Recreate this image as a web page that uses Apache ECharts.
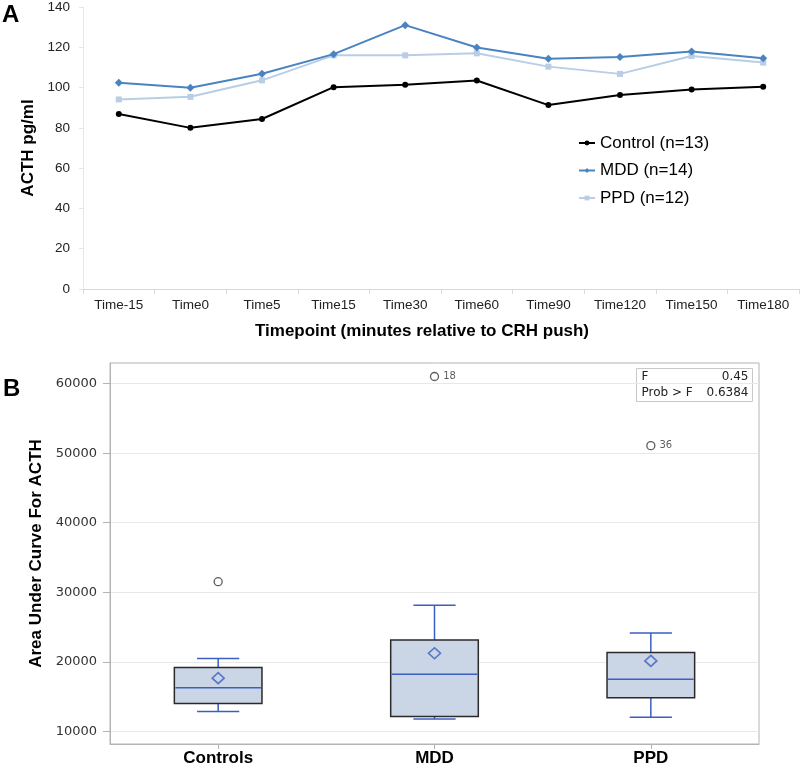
<!DOCTYPE html>
<html><head><meta charset="utf-8">
<script src="https://cdn.jsdelivr.net/npm/echarts@6/dist/echarts.min.js"></script>
<style>html,body{margin:0;padding:0;background:#fff}#chart{width:800px;height:767px}</style>
</head><body><div id="chart"></div>
<script>
// ---- Panel A data ----
var timepoints = ['Time-15','Time0','Time5','Time15','Time30','Time60','Time90','Time120','Time150','Time180'];
var controlACTH = [86.9, 80.0, 84.4, 100.2, 101.4, 103.5, 91.3, 96.3, 99.1, 100.4];
var mddACTH = [102.4, 99.9, 106.9, 116.6, 131.0, 119.9, 114.3, 115.2, 117.9, 114.5];
var ppdACTH = [94.1, 95.4, 103.6, 116.0, 116.0, 117.0, 110.4, 106.8, 115.7, 112.4];
var seriesNames = ['Control (n=13)', 'MDD (n=14)', 'PPD (n=12)'];

// ---- Panel B data ----
var groups = ['Controls', 'MDD', 'PPD'];
var boxLow = [12870, 11760, 12010];
var boxQ1 = [14020, 12150, 14820];
var boxMedian = [16260, 18220, 17500];
var boxQ3 = [19180, 23140, 21330];
var boxHigh = [20470, 28120, 24150];
var groupMean = [17650, 21230, 20130];
var outlierValues = [31520, 61020, 51080];
var outlierIds = ['', '18', '36'];
var aucTicks = [10000, 20000, 30000, 40000, 50000, 60000];
var anovaLabels = ['F', 'Prob > F'];
var anovaValues = ['0.45', '0.6384'];

var FONT = "'Liberation Sans', Arial, sans-serif";
var SAS = "'DejaVu Sans', sans-serif";
var BLUE = '#3b5fbf';

var chart = echarts.init(document.getElementById('chart'), null, {renderer: 'canvas'});

var boxData = groups.map(function (g, i) {
  return [i, boxLow[i], boxQ1[i], boxMedian[i], boxQ3[i], boxHigh[i]];
});

function renderBox(params, api) {
  var x = api.value(0);
  var bw = api.size([1, 0])[0];
  var boxW = bw * 0.405, capW = bw * 0.195;
  var pLow = api.coord([x, api.value(1)]);
  var pQ1 = api.coord([x, api.value(2)]);
  var pMed = api.coord([x, api.value(3)]);
  var pQ3 = api.coord([x, api.value(4)]);
  var pHigh = api.coord([x, api.value(5)]);
  var cx = pMed[0];
  var ls = {stroke: BLUE, lineWidth: 1.5};
  return {
    type: 'group',
    children: [
      {type: 'line', shape: {x1: cx, y1: pQ3[1], x2: cx, y2: pHigh[1]}, style: ls},
      {type: 'line', shape: {x1: cx, y1: pQ1[1], x2: cx, y2: pLow[1]}, style: ls},
      {type: 'line', shape: {x1: cx - capW / 2, y1: pHigh[1], x2: cx + capW / 2, y2: pHigh[1]}, style: ls},
      {type: 'line', shape: {x1: cx - capW / 2, y1: pLow[1], x2: cx + capW / 2, y2: pLow[1]}, style: ls},
      {type: 'rect', shape: {x: cx - boxW / 2, y: pQ3[1], width: boxW, height: pQ1[1] - pQ3[1]},
        style: {fill: '#cad5e6', stroke: '#2a2a2a', lineWidth: 1.5}},
      {type: 'line', shape: {x1: cx - boxW / 2 + 1, y1: pMed[1], x2: cx + boxW / 2 - 1, y2: pMed[1]}, style: ls}
    ]
  };
}

var option = {
  backgroundColor: '#ffffff',
  animation: false,
  textStyle: {fontFamily: FONT},
  legend: {
    data: seriesNames,
    orient: 'vertical',
    left: 578, top: 133, padding: 0,
    itemWidth: 16, itemHeight: 6, itemGap: 7.5,
    textStyle: {fontSize: 17, color: '#000', fontFamily: FONT, lineHeight: 20}
  },
  grid: [
    {left: 83, right: 1, top: 5, height: 284},
    {left: 110, right: 41, top: 363, bottom: 22, show: true, borderColor: '#b4b4b4', borderWidth: 1, backgroundColor: 'transparent'}
  ],
  xAxis: [
    {
      gridIndex: 0, type: 'category', data: timepoints, boundaryGap: true,
      axisLine: {show: true, lineStyle: {color: '#d9d9d9', width: 1}},
      axisTick: {show: true, length: 5, lineStyle: {color: '#d9d9d9'}},
      axisLabel: {fontSize: 13.5, color: '#222', margin: 9, fontFamily: FONT},
      splitLine: {show: false},
      name: 'Timepoint (minutes relative to CRH push)', nameLocation: 'middle', nameGap: 34,
      nameTextStyle: {fontSize: 17, fontWeight: 'bold', color: '#000', fontFamily: FONT, padding: [0, 38, 0, 0]}
    },
    {
      gridIndex: 1, type: 'category', data: groups, boundaryGap: true,
      axisLine: {show: true, lineStyle: {color: '#b4b4b4'}},
      axisTick: {show: true, alignWithLabel: true, length: 5, lineStyle: {color: '#b4b4b4'}},
      axisLabel: {fontSize: 17, fontWeight: 'bold', color: '#000', margin: 6, fontFamily: FONT},
      splitLine: {show: false}
    }
  ],
  yAxis: [
    {
      gridIndex: 0, type: 'value', min: 0, max: 140, interval: 20,
      axisLine: {show: true, lineStyle: {color: '#e6e6e6'}},
      axisTick: {show: true, length: 4, lineStyle: {color: '#e6e6e6'}},
      axisLabel: {fontSize: 13.5, color: '#222', margin: 13, fontFamily: FONT},
      splitLine: {show: false},
      name: 'ACTH pg/ml', nameLocation: 'middle', nameGap: 41,
      nameTextStyle: {fontSize: 17, fontWeight: 'bold', color: '#000', fontFamily: FONT}
    },
    {
      gridIndex: 1, type: 'value', min: 8180, max: 62960,
      axisLine: {show: true, lineStyle: {color: '#b4b4b4'}},
      axisTick: {show: true, length: 7, customValues: aucTicks, lineStyle: {color: '#b4b4b4'}},
      axisLabel: {fontSize: 13, color: '#333', margin: 13, fontFamily: SAS, customValues: aucTicks,
        formatter: function (v) { return String(Math.round(v)); }},
      splitLine: {show: true, lineStyle: {color: '#e8e8e8', width: 1}},
      name: 'Area Under Curve For ACTH', nameLocation: 'middle', nameGap: 65,
      nameTextStyle: {fontSize: 17, fontWeight: 'bold', color: '#000', fontFamily: FONT}
    }
  ],
  series: [
    {
      name: seriesNames[0], type: 'line', xAxisIndex: 0, yAxisIndex: 0, data: controlACTH,
      symbol: 'circle', symbolSize: 6, color: '#000000',
      lineStyle: {width: 2, color: '#000000'}, itemStyle: {color: '#000000'}, z: 4
    },
    {
      name: seriesNames[1], type: 'line', xAxisIndex: 0, yAxisIndex: 0, data: mddACTH,
      symbol: 'diamond', symbolSize: 8, color: '#4a84c0',
      lineStyle: {width: 2, color: '#4a84c0'}, itemStyle: {color: '#4a84c0'}, z: 3
    },
    {
      name: seriesNames[2], type: 'line', xAxisIndex: 0, yAxisIndex: 0, data: ppdACTH,
      symbol: 'rect', symbolSize: 6, color: '#b9cde5',
      lineStyle: {width: 2, color: '#b9cde5'}, itemStyle: {color: '#b9cde5'}, z: 2
    },
    {
      type: 'custom', xAxisIndex: 1, yAxisIndex: 1, data: boxData,
      renderItem: renderBox, encode: {x: 0, y: [1, 2, 3, 4, 5]}, z: 3
    },
    {
      type: 'scatter', xAxisIndex: 1, yAxisIndex: 1,
      data: groups.map(function (g, i) { return [i, groupMean[i]]; }),
      symbol: 'diamond', symbolSize: [12, 11],
      itemStyle: {color: 'rgba(0,0,0,0)', borderColor: BLUE, borderWidth: 1.6}, z: 5
    },
    {
      type: 'scatter', xAxisIndex: 1, yAxisIndex: 1,
      data: groups.map(function (g, i) { return [i, outlierValues[i]]; }),
      symbol: 'circle', symbolSize: 8,
      itemStyle: {color: 'rgba(0,0,0,0)', borderColor: '#333', borderWidth: 1.3},
      label: {show: true, position: 'right', distance: 4, fontSize: 10, color: '#333', fontFamily: SAS,
        formatter: function (p) { return outlierIds[p.dataIndex]; }}, z: 5
    }
  ],
  graphic: [
    {type: 'text', left: 2, top: 3, style: {text: 'A', fontSize: 24, fontWeight: 'bold', fill: '#000', fontFamily: FONT}},
    {type: 'text', left: 3, top: 377, style: {text: 'B', fontSize: 24, fontWeight: 'bold', fill: '#000', fontFamily: FONT}},
    {
      type: 'group', left: 636, top: 368,
      children: [
        {type: 'rect', shape: {x: 0, y: 0, width: 116, height: 33}, style: {fill: '#fff', stroke: '#c8c8c8', lineWidth: 1}},
        {type: 'text', x: 5, y: 8.5, style: {text: anovaLabels[0], fontSize: 12, fill: '#222', fontFamily: SAS, verticalAlign: 'middle'}},
        {type: 'text', x: 112, y: 8.5, style: {text: anovaValues[0], fontSize: 12, fill: '#222', fontFamily: SAS, align: 'right', verticalAlign: 'middle'}},
        {type: 'text', x: 5, y: 24, style: {text: anovaLabels[1], fontSize: 12, fill: '#222', fontFamily: SAS, verticalAlign: 'middle'}},
        {type: 'text', x: 112, y: 24, style: {text: anovaValues[1], fontSize: 12, fill: '#222', fontFamily: SAS, align: 'right', verticalAlign: 'middle'}}
      ]
    }
  ]
};
chart.setOption(option);
</script>
</body></html>
